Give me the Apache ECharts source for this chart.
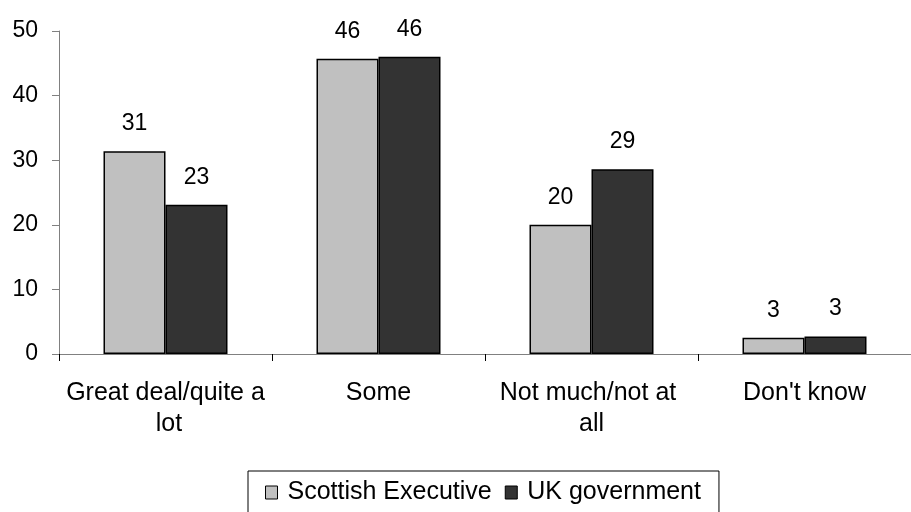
<!DOCTYPE html>
<html>
<head>
<meta charset="utf-8">
<script src="https://cdn.jsdelivr.net/npm/echarts@6/dist/echarts.min.js"></script>
<style>
html,body{margin:0;padding:0;background:#fff;}
#c{width:911px;height:512px;}
</style>
</head>
<body>
<div id="c"></div>
<script>
var categories = ["Great deal/quite a lot", "Some", "Not much/not at all", "Don't know"];
var scottishExecutive = [31.4, 45.7, 20.0, 2.5];
var ukGovernment = [23.1, 46.0, 28.6, 2.7];
var seriesNames = ["Scottish Executive", "UK government"];
var yTicks = { min: 0, max: 50, interval: 10 };

var FONT = "'Liberation Sans', Arial, sans-serif";
var chart = echarts.init(document.getElementById('c'), null, { renderer: 'canvas' });

function barSeries(name, data, color) {
  return {
    name: name,
    type: 'bar',
    data: data,
    barWidth: 62,
    barGap: '0%',
    itemStyle: { color: color, borderColor: '#000', borderWidth: 1.5 },
    label: {
      show: true,
      position: 'top',
      distance: 16,
      color: '#000',
      fontSize: 23,
      fontFamily: FONT,
      formatter: function (p) { return Math.round(p.value); }
    }
  };
}

chart.setOption({
  animation: false,
  backgroundColor: '#fff',
  grid: { left: 59, top: 31, width: 864, height: 323, containLabel: false },
  legend: {
    left: 248,
    top: 471,
    data: seriesNames,
    itemWidth: 12,
    itemHeight: 13,
    itemGap: 13,
    padding: [9, 18, 8, 17],
    borderColor: '#000',
    borderWidth: 1,
    icon: 'rect',
    itemStyle: { borderColor: '#000', borderWidth: 1 },
    textStyle: { color: '#000', fontSize: 25, fontFamily: FONT, padding: [0, 0, 0, 5] }
  },
  xAxis: {
    type: 'category',
    data: categories,
    axisLine: { lineStyle: { color: '#808080', width: 1 } },
    axisTick: { show: true, length: 7, lineStyle: { color: '#000' } },
    axisLabel: {
      color: '#000',
      fontSize: 25,
      fontFamily: FONT,
      margin: 24,
      lineHeight: 31,
      width: 203,
      overflow: 'break',
      interval: 0,
      align: 'center'
    }
  },
  yAxis: {
    type: 'value',
    min: yTicks.min,
    max: yTicks.max,
    interval: yTicks.interval,
    splitLine: { show: false },
    axisLine: { show: true, lineStyle: { color: '#808080', width: 1 } },
    axisTick: { show: true, length: 7, lineStyle: { color: '#808080' } },
    axisLabel: { color: '#000', fontSize: 23, fontFamily: FONT, margin: 21 }
  },
  series: [
    barSeries(seriesNames[0], scottishExecutive, '#C0C0C0'),
    barSeries(seriesNames[1], ukGovernment, '#333333')
  ]
});
</script>
</body>
</html>
